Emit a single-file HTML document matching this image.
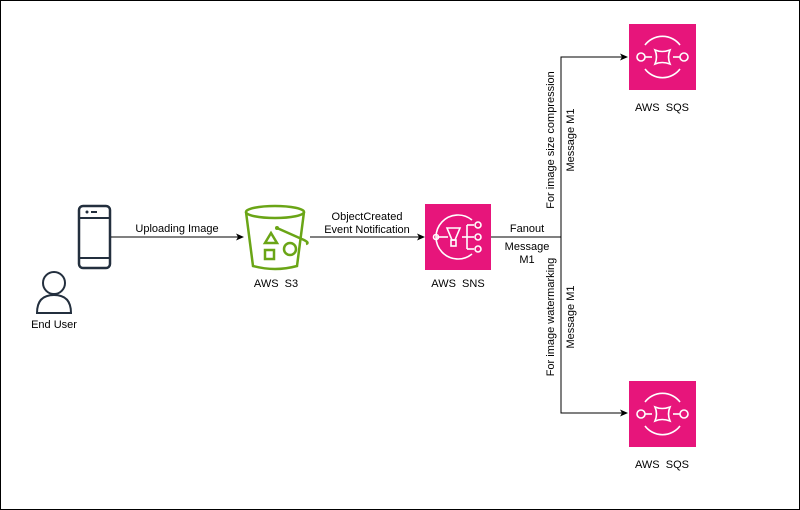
<!DOCTYPE html>
<html><head><style>
body{margin:0;background:#fff;}
svg{display:block;font-family:"Liberation Sans",sans-serif;}
text{white-space:pre;}
</style></head><body>
<svg width="800" height="510" viewBox="0 0 800 510">
<rect x="0.5" y="0.5" width="799" height="509" fill="#fff" stroke="#000"/>
<defs><marker id="a" markerWidth="8" markerHeight="8" refX="7" refY="4" orient="auto" markerUnits="userSpaceOnUse"><path d="M0,0.5 L8,4 L0,7.5 L2,4z" fill="#000"/></marker></defs>
<!-- phone -->
<rect x="79" y="206" width="31" height="62" rx="4" fill="none" stroke="#232f3e" stroke-width="2.5"/>
<line x1="79" y1="218" x2="110" y2="218" stroke="#232f3e" stroke-width="2"/>
<line x1="79" y1="258" x2="110" y2="258" stroke="#232f3e" stroke-width="2"/>
<circle cx="87" cy="212" r="1.5" fill="#232f3e"/><line x1="91" y1="212" x2="97" y2="212" stroke="#232f3e" stroke-width="2"/>
<!-- person -->
<circle cx="54" cy="283" r="11" fill="none" stroke="#232f3e" stroke-width="2"/>
<path d="M37,313 Q37,295 54,295 Q71,295 71,313 Z" fill="none" stroke="#232f3e" stroke-width="2"/>
<text x="54" y="328" font-size="11" text-anchor="middle">End User</text>
<!-- arrows -->
<line x1="111" y1="237" x2="243" y2="237" stroke="#000" marker-end="url(#a)"/>
<text x="177" y="232" font-size="11" text-anchor="middle">Uploading Image</text>
<line x1="310" y1="237" x2="424" y2="237" stroke="#000" marker-end="url(#a)"/>
<text x="367" y="220" font-size="11" text-anchor="middle">ObjectCreated</text>
<text x="367" y="233" font-size="11" text-anchor="middle">Event Notification</text>
<!-- S3 bucket -->
<g fill="none" stroke="#6aa516" stroke-width="2.5">
<ellipse cx="275" cy="212" rx="29" ry="6"/>
<path d="M246,212 L253,266 Q275,272 297,266 L304,212"/>
<path d="M265,243 L271,233 L277,243 Z"/>
<rect x="265" y="250" width="9" height="9"/>
<circle cx="290" cy="249" r="6"/>
<path d="M277,228 L304,240 Q310,243 306,244"/>
</g>
<circle cx="277" cy="228" r="2" fill="#6aa516"/>
<text x="276" y="287" font-size="11" text-anchor="middle">AWS  S3</text>
<!-- SNS -->
<rect x="425" y="204" width="66" height="66" fill="#e7157b"/>
<g fill="none" stroke="#fff" stroke-width="1.6">
<path d="M472,220 A22,22 0 1 0 472,254"/>
<line x1="437" y1="237" x2="448" y2="237"/><circle cx="436" cy="237" r="2.5"/>
<path d="M447,228 L460,228 L455,240 L452,240 Z"/><rect x="451" y="240" width="5" height="6"/>
<line x1="462" y1="237" x2="474" y2="237"/><line x1="467" y1="225" x2="467" y2="249"/>
<line x1="467" y1="225" x2="474" y2="225"/><line x1="467" y1="249" x2="474" y2="249"/>
<circle cx="478" cy="225" r="3"/><circle cx="478" cy="237" r="3"/><circle cx="478" cy="249" r="3"/>
</g>
<text x="458" y="287" font-size="11" text-anchor="middle">AWS  SNS</text>
<!-- fanout -->
<polyline points="491,237 561,237" stroke="#000" fill="none"/>
<polyline points="561,413 561,57 627,57" stroke="#000" fill="none" marker-end="url(#a)"/>
<polyline points="561,237 561,413 627,413" stroke="#000" fill="none" marker-end="url(#a)"/>
<text x="527" y="232" font-size="11" text-anchor="middle">Fanout</text>
<text x="527" y="250" font-size="11" text-anchor="middle">Message</text>
<text x="527" y="263" font-size="11" text-anchor="middle">M1</text>
<text transform="translate(554,140) rotate(-90)" font-size="11" text-anchor="middle">For image size compression</text>
<text transform="translate(574,140) rotate(-90)" font-size="11" text-anchor="middle">Message M1</text>
<text transform="translate(554,317) rotate(-90)" font-size="11" text-anchor="middle">For image watermarking</text>
<text transform="translate(574,317) rotate(-90)" font-size="11" text-anchor="middle">Message M1</text>
<!-- SQS -->
<g id="sqs">
<rect x="629" y="24" width="67" height="66" fill="#e7157b"/>
<g fill="none" stroke="#fff" stroke-width="1.6">
<path d="M645,45 A22,22 0 0 1 680,45"/><path d="M645,69 A22,22 0 0 0 680,69"/>
<circle cx="641" cy="57" r="4"/><circle cx="684" cy="57" r="4"/>
<line x1="645" y1="57" x2="652" y2="57"/><line x1="673" y1="57" x2="680" y2="57"/>
<path d="M655,50 Q662,53 670,50 Q667,57 670,64 Q662,61 655,64 Q658,57 655,50Z"/>
</g>
<text x="662" y="111" font-size="11" text-anchor="middle">AWS  SQS</text>
</g>
<use href="#sqs" y="357"/>
</svg>
</body></html>
